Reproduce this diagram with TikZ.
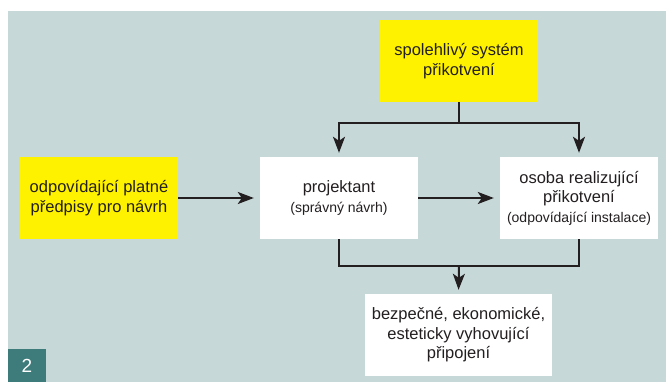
\documentclass[tikz,border=0pt]{standalone}
\usepackage{fontspec}
\setmainfont{Liberation Sans}
\usetikzlibrary{arrows.meta}
\definecolor{bgc}{HTML}{C6D8D8}
\definecolor{ylw}{HTML}{FFF200}
\definecolor{teal2}{HTML}{3E7B7B}
\definecolor{ink}{HTML}{231F20}
\tikzset{
  box/.style={rectangle, minimum width=158pt, minimum height=82pt, inner sep=0pt, align=center, text=ink, font=\fontsize{16.5}{19.5}\selectfont},
  ybox/.style={box, fill=ylw},
  wbox/.style={box, fill=white},
  conn/.style={draw=ink, line width=2pt},
  arr/.style={conn, -{Stealth[length=16pt,width=12pt,inset=4pt]}},
  small/.style={font=\fontsize{14}{18}\selectfont}
}
\newcommand{\sm}[1]{{\fontsize{14}{18}\selectfont #1}}
\begin{document}
\begin{tikzpicture}[x=1pt,y=-1pt]
\useasboundingbox (0,0) rectangle (666,382);
\fill[white] (0,0) rectangle (666,382);
\fill[bgc] (8,11) rectangle (666,382);
\node[ybox] (top) at (459,61) {spolehlivý systém\\přikotvení};
\node[ybox] (left) at (99,198) {odpovídající platné\\předpisy pro návrh};
\node[wbox] (proj) at (339,198) {projektant\\\sm{(správný návrh)}};
\node[wbox] (osoba) at (579,198) {osoba realizující\\přikotvení\\\sm{(odpovídající instalace)}};
\node[wbox, minimum width=187pt] (bot) at (458.5,335) {bezpečné, ekonomické,\\esteticky vyhovující\\připojení};
\node[fill=teal2, minimum width=38pt, minimum height=33pt, inner sep=0pt, text=white, font=\fontsize{19}{22}\selectfont] (num) at (26.8,365.5) {2};
\coordinate (j1) at (459,123);
\coordinate (j2) at (459,266);
\draw[arr, shorten >=4pt] (top.south) -- (j1) -| (proj.north);
\draw[arr, shorten >=4pt] (j1) -| (osoba.north);
\draw[arr, shorten >=6pt] (left.east) -- (proj.west);
\draw[arr, shorten >=6pt] (proj.east) -- (osoba.west);
\draw[conn] (proj.south) |- (j2) -| (osoba.south);
\draw[arr, shorten >=4pt] (j2) -- (bot.north);
\end{tikzpicture}
\end{document}
